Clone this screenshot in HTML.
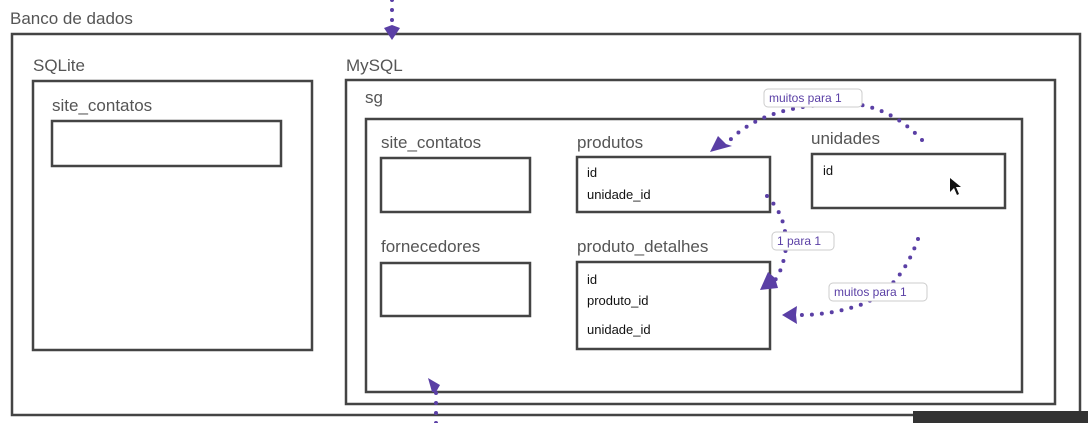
<!DOCTYPE html>
<html><head><meta charset="utf-8"><style>
html,body{margin:0;padding:0;background:#fff;}
svg{display:block;font-family:"Liberation Sans",sans-serif;}
.t{fill:#555;font-size:17px;}
.s{fill:#111;font-size:13px;}
.b{fill:none;stroke:#444;stroke-width:2.5;}
.d{fill:none;stroke:#5a3fa5;stroke-width:4;stroke-linecap:round;stroke-dasharray:0 10;}
.a{fill:#5a3fa5;}
.lb{fill:#fff;stroke:#ccc;stroke-width:1;}
.lt{fill:#5a3fa5;font-size:12px;}
</style></head><body>
<svg width="1088" height="423" viewBox="0 0 1088 423">
<text class="t" x="10" y="24">Banco de dados</text>
<rect class="b" x="12" y="34" width="1068" height="381"/>
<text class="t" x="33" y="71">SQLite</text>
<rect class="b" x="33" y="81" width="279" height="269"/>
<text class="t" x="52" y="111">site_contatos</text>
<rect class="b" x="52" y="121" width="229" height="45"/>
<text class="t" x="346" y="71">MySQL</text>
<rect class="b" x="346" y="80" width="709" height="324"/>
<text class="t" x="365" y="103">sg</text>
<rect class="b" x="366" y="119" width="656" height="273"/>
<text class="t" x="381" y="148">site_contatos</text>
<rect class="b" x="381" y="158" width="149" height="54"/>
<text class="t" x="381" y="252">fornecedores</text>
<rect class="b" x="381" y="263" width="149" height="53"/>
<text class="t" x="577" y="148">produtos</text>
<rect class="b" x="577" y="157" width="193" height="55"/>
<text class="s" x="587" y="177">id</text>
<text class="s" x="587" y="199">unidade_id</text>
<text class="t" x="811" y="144">unidades</text>
<rect class="b" x="812" y="154" width="193" height="54"/>
<text class="s" x="823" y="175">id</text>
<text class="t" x="577" y="252">produto_detalhes</text>
<rect class="b" x="577" y="262" width="193" height="87"/>
<text class="s" x="587" y="284">id</text>
<text class="s" x="587" y="305">produto_id</text>
<text class="s" x="587" y="334">unidade_id</text>
<!-- top arrow -->
<path class="d" d="M392 0 L392 25"/>
<path class="a" d="M384 28 L392 25 L400 28 L392 40 Z"/>
<!-- bottom arrow -->
<path class="d" d="M436 423 L436 392"/>
<path class="a" d="M428 378 L440 385 L436 392 L432 392 Z"/>
<!-- muitos para 1 top -->
<path class="d" d="M922 140 Q880 95 820 105 Q760 110 730 140"/>
<path class="a" d="M710 152 L718 136 L726 144 L732 146 Z"/>
<rect class="lb" x="764" y="89" width="98" height="18" rx="4"/>
<text class="lt" x="769" y="102">muitos para 1</text>
<!-- 1 para 1 -->
<path class="d" d="M767 196 Q790 220 785 255 Q780 275 775 280"/>
<path class="a" d="M760 290 L768 272 L775 278 L778 288 Z"/>
<rect class="lb" x="772" y="232" width="62" height="18" rx="4"/>
<text class="lt" x="777" y="245">1 para 1</text>
<path class="d" d="M918 239 Q900 290 860 305 Q830 315 800 315"/>
<path class="a" d="M782 315 L797 306 L796 315 L797 324 Z"/>
<rect class="lb" x="829" y="283" width="98" height="18" rx="4"/>
<text class="lt" x="834" y="296">muitos para 1</text>
<path d="M950 178 L950 192 L954 188 L957 195 L959 194 L956 187 L961 187 Z" fill="#111"/>
<rect x="913" y="411" width="175" height="12" fill="#333"/>
</svg>
</body></html>
